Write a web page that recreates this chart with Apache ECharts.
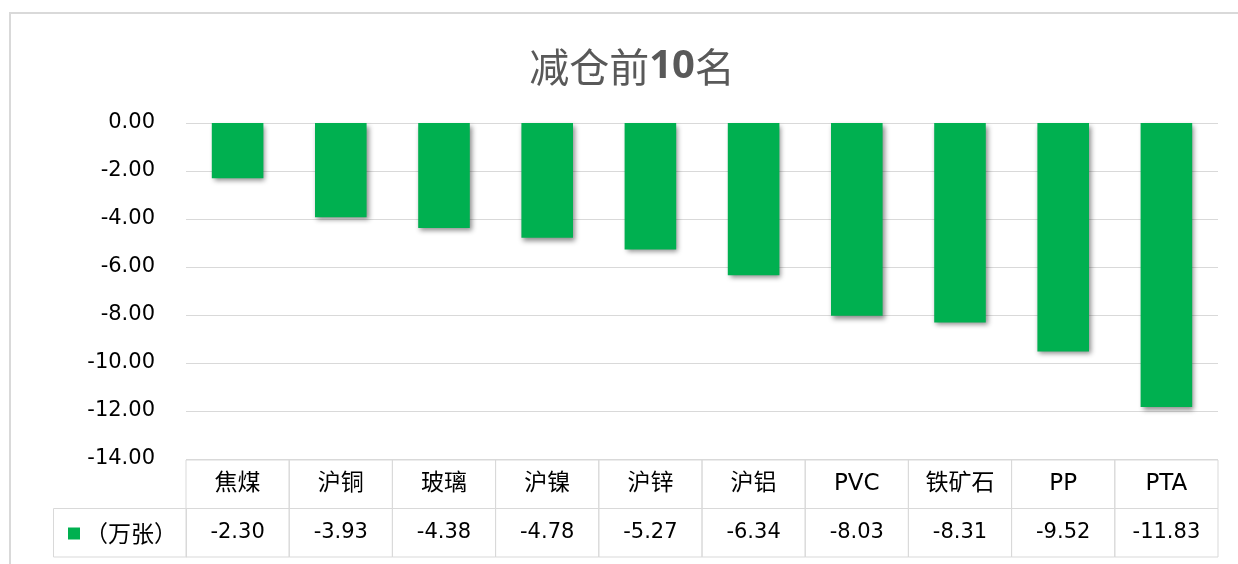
<!DOCTYPE html>
<html><head><meta charset="utf-8">
<script src="https://cdn.jsdelivr.net/npm/echarts@6/dist/echarts.min.js"></script>
<style>html,body{margin:0;padding:0;background:#fff}#c{width:1238px;height:564px}</style>
</head><body><div id="c"></div>
<script>
const categories = ['焦煤','沪铜','玻璃','沪镍','沪锌','沪铝','PVC','铁矿石','PP','PTA'];
const values = [-2.30,-3.93,-4.38,-4.78,-5.27,-6.34,-8.03,-8.31,-9.52,-11.83];
const seriesName = '（万张）';
const titleText = '减仓前10名';
const yMin = -14, yMax = 0, yInterval = 2;

const FONT = '"DejaVu Sans","Noto Sans CJK SC",sans-serif';
const CJK = '"Noto Sans CJK SC",sans-serif';
const tableData = [];
categories.forEach((c,i)=>{ tableData.push([i,0]); tableData.push([i,1]); });
const richTitle = '{a|' + titleText.replace(/(\d+)/, '}{b|$1}{a|') + '}';

const chart = echarts.init(document.getElementById('c'));
chart.setOption({
  animation:false,
  title:{text:richTitle,left:627,top:42,textAlign:'center',
    textStyle:{rich:{
      a:{fontFamily:CJK,fontSize:40,fontWeight:'normal',color:'#595959'},
      b:{fontFamily:'"Open Sans",sans-serif',fontSize:40,fontWeight:'bold',color:'#595959'}
    }}},
  legend:{data:[seriesName],left:63,top:517,icon:'rect',itemWidth:12,itemHeight:12,itemGap:5,
    textStyle:{fontFamily:CJK,fontSize:23,color:'#000'}},
  graphic:[
    {type:'rect',shape:{x:10,y:13,width:1240,height:560},style:{fill:'none',stroke:'#d9d9d9',lineWidth:2},z:-1},
    {type:'rect',shape:{x:53.5,y:508.5,width:133,height:48.5},style:{fill:'none',stroke:'#d9d9d9',lineWidth:1}}
  ],
  grid:[
    {left:186,right:20,top:123,height:336},
    {left:186,right:20,top:460,height:97}
  ],
  xAxis:[
    {type:'category',gridIndex:0,data:categories,show:false},
    {type:'category',gridIndex:1,data:categories,show:false}
  ],
  yAxis:[
    {type:'value',gridIndex:0,min:yMin,max:yMax,interval:yInterval,
      axisLine:{show:false},axisTick:{show:false},
      axisLabel:{formatter:v=>v.toFixed(2),fontFamily:FONT,fontSize:21,color:'#000',margin:31},
      splitLine:{lineStyle:{color:'#d9d9d9',width:1}}},
    {type:'category',gridIndex:1,data:['name','value'],inverse:true,show:false}
  ],
  series:[
    {type:'bar',name:seriesName,xAxisIndex:0,yAxisIndex:0,data:values,barWidth:'50%',
      itemStyle:{color:'#00B050',shadowColor:'rgba(0,0,0,0.45)',shadowBlur:5,shadowOffsetX:2,shadowOffsetY:3}},
    {type:'custom',xAxisIndex:1,yAxisIndex:1,data:tableData,silent:true,
      renderItem:function(params,api){
        const i=api.value(0), r=api.value(1);
        const c=api.coord([i,r]);
        const s=api.size([1,1]);
        const txt = r===0 ? categories[i] : values[i].toFixed(2);
        const fs = r===0 ? 23 : 21;
        return {type:'group',children:[
          {type:'rect',shape:{x:c[0]-s[0]/2,y:c[1]-s[1]/2,width:s[0],height:s[1]},
            style:{fill:'none',stroke:'#d9d9d9',lineWidth:1}},
          {type:'text',style:{text:txt,x:c[0],y:c[1],align:'center',verticalAlign:'middle',
            font:fs+'px '+FONT,fill:'#000'}}
        ]};
      }}
  ]
});
</script></body></html>
